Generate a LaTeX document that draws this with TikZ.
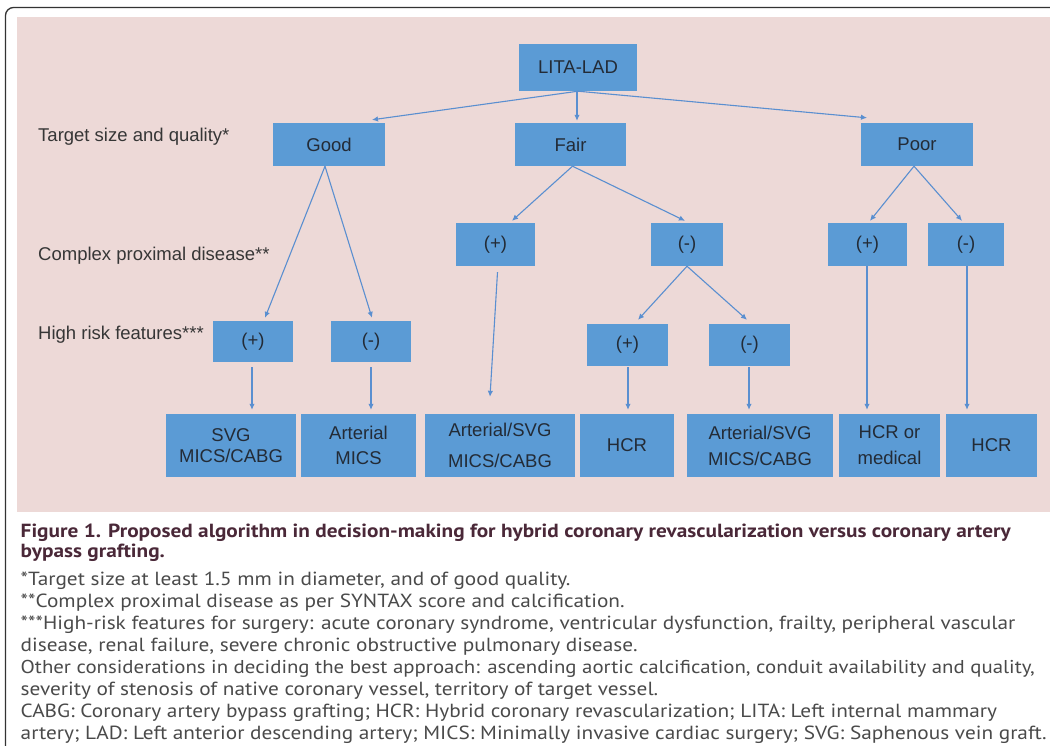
\documentclass[tikz,border=0pt]{standalone}
\usepackage{fontspec}
\setmainfont{Liberation Sans}
\newfontfamily\capfont{PT Sans}[FakeStretch=1.12]
\usetikzlibrary{arrows.meta,calc}
\definecolor{pinkbg}{HTML}{EDD9D7}
\definecolor{boxblue}{HTML}{5B9BD5}
\definecolor{arrowblue}{HTML}{5A8FD0}
\definecolor{boxtext}{HTML}{232B36}
\definecolor{labeltext}{HTML}{363636}
\definecolor{titlecol}{HTML}{4A2838}
\definecolor{bodycol}{HTML}{4A4A4A}
\definecolor{framecol}{HTML}{333333}
\begin{document}
\begin{tikzpicture}[x=1pt,y=-1pt,
  box/.style={rectangle, fill=boxblue, inner sep=0pt, text=boxtext,
    font=\fontsize{18.5}{22}\selectfont, align=center},
  lab/.style={anchor=base west, text=labeltext, inner sep=0pt,
    font=\fontsize{18.5}{22}\selectfont},
  conn/.style={draw=arrowblue, line width=1.1pt, -{Latex[length=6pt,width=5.5pt]}},
  capline/.style={anchor=base west, inner sep=0pt, text=bodycol,
    font=\capfont\fontsize{19}{22}\selectfont},
  captitle/.style={anchor=base west, inner sep=0pt, text=titlecol,
    font=\capfont\bfseries\fontsize{19}{22}\selectfont}
]
\useasboundingbox (0,0) rectangle (1050,745);
\clip (0,0) rectangle (1050,745);
\fill[white] (0,0) rectangle (1050,745);
\draw[framecol, line width=1.3pt, rounded corners=8pt] (5.5,7.5) rectangle (1070,770);
\fill[pinkbg] (17,17) rectangle (1050,511.5);

% level 0/1
\node[box, minimum width=118pt, minimum height=47pt] (lita) at (578,67.5) {LITA-LAD};
\node[box, minimum width=112pt, minimum height=43pt] (good) at (329,144.5) {Good};
\node[box, minimum width=111pt, minimum height=43pt] (fair) at (570.5,144.5) {Fair};
\node[box, minimum width=112pt, minimum height=43pt] (poor) at (917,144.5) {Poor};

% level 2
\node[box, minimum width=79pt, minimum height=43pt] (fp) at (495.5,244.5) {(+)};
\node[box, minimum width=72pt, minimum height=43pt] (fm) at (687,244.5) {(-)};
\node[box, minimum width=79pt, minimum height=43pt] (pp) at (867.5,244.5) {(+)};
\node[box, minimum width=76pt, minimum height=43pt] (pm) at (966,244.5) {(-)};

% level 3
\node[box, minimum width=80pt, minimum height=41pt] (gp) at (253,341.5) {(+)};
\node[box, minimum width=80pt, minimum height=41pt] (gm) at (371,341.5) {(-)};
\node[box, minimum width=81pt, minimum height=42pt] (fmp) at (627.5,345) {(+)};
\node[box, minimum width=81pt, minimum height=42pt] (fmm) at (749.5,345) {(-)};

% bottom row
\node[box, minimum width=130pt, minimum height=63pt] (b1) at (231,445.5) {SVG\\[-1pt]MICS/CABG};
\node[box, minimum width=115pt, minimum height=63pt] (b2) at (358.5,445.5) {Arterial\\[3pt]MICS};
\node[box, minimum width=150pt, minimum height=63pt] (b3) at (500,445.5) {Arterial/SVG\\[9pt]MICS/CABG};
\node[box, minimum width=94pt, minimum height=63pt] (b4) at (627,445.5) {HCR};
\node[box, minimum width=146pt, minimum height=63pt] (b5) at (760,445.5) {Arterial/SVG\\[4pt]MICS/CABG};
\node[box, minimum width=101pt, minimum height=63pt] (b6) at (889.5,445.5) {HCR or\\[4pt]medical};
\node[box, minimum width=91pt, minimum height=63pt] (b7) at (991.5,445.5) {HCR};

% row labels
\node[lab] (l1) at (38,141.5) {Target size and quality*};
\node[lab] (l2) at (38,260) {Complex proximal disease**};
\node[lab] (l3) at (38,339.5) {High risk features***};

% connectors
\draw[conn] (lita.south) -- ($(good.north)+(43,-3)$);
\draw[conn] ($(lita.south)+(-1,0)$) -- ($(fair.north)+(6.5,-2)$);
\draw[conn] (lita.south) -- ($(poor.north)+(-50,-5)$);

\draw[conn] ($(good.south)+(-4,0)$) -- ($(gp.north)+(12,-3)$);
\draw[conn] ($(good.south)+(-4,0)$) -- ($(gm.north)+(1,-3)$);

\draw[conn] ($(fair.south)+(2,0)$) -- ($(fp.north)+(16.5,-2)$);
\draw[conn] ($(fair.south)+(2,0)$) -- ($(fm.north)+(-2,-2)$);

\draw[conn] ($(poor.south)+(-3,0)$) -- ($(pp.north)+(2.5,-2)$);
\draw[conn] ($(poor.south)+(-3,0)$) -- ($(pm.north)+(-4,-2)$);

\draw[conn] (fm.south) -- ($(fmp.north)+(10.5,-4)$);
\draw[conn] (fm.south) -- ($(fmm.north)+(-2.5,-4)$);

\draw[conn] ($(fp.south)+(2,6)$) -- ($(b3.north)+(-10,-17)$);
\draw[conn] ($(pp.south)+(-0.5,0)$) -- ($(b6.north)+(-22.5,-4)$);
\draw[conn] ($(pm.south)+(1,0)$) -- ($(b7.north)+(-24.5,-4)$);

\draw[conn] ($(gp.south)+(-1,5)$) -- ($(b1.north)+(21,-4)$);
\draw[conn] ($(gm.south)+(0,5)$) -- ($(b2.north)+(12.5,-4)$);
\draw[conn] ($(fmp.south)+(0.5,1)$) -- ($(b4.north)+(1,-4)$);
\draw[conn] ($(fmm.south)+(-0.5,1)$) -- ($(b5.north)+(-11,-4)$);

% caption
\node[captitle] (c1) at (20.5,537) {Figure 1. Proposed algorithm in decision-making for hybrid coronary revascularization versus coronary artery};
\node[captitle] (c2) at (20.5,557.5) {bypass grafting.};
\node[capline] (c3) at (20.5,585) {*Target size at least 1.5 mm in diameter, and of good quality.};
\node[capline] (c4) at (20.5,607) {**Complex proximal disease as per SYNTAX score and calcification.};
\node[capline] (c5) at (20.5,629) {***High-risk features for surgery: acute coronary syndrome, ventricular dysfunction, frailty, peripheral vascular};
\node[capline] (c6) at (20.5,651) {disease, renal failure, severe chronic obstructive pulmonary disease.};
\node[capline, font=\capfont\fontsize{18.6}{22}\selectfont] (c7) at (20.5,673) {Other considerations in deciding the best approach: ascending aortic calcification, conduit availability and quality,};
\node[capline] (c8) at (20.5,695) {severity of stenosis of native coronary vessel, territory of target vessel.};
\node[capline] (c9) at (20.5,717) {CABG: Coronary artery bypass grafting; HCR: Hybrid coronary revascularization; LITA: Left internal mammary};
\node[capline] (c10) at (20.5,739) {artery; LAD: Left anterior descending artery; MICS: Minimally invasive cardiac surgery; SVG: Saphenous vein graft.};
\end{tikzpicture}
\end{document}
